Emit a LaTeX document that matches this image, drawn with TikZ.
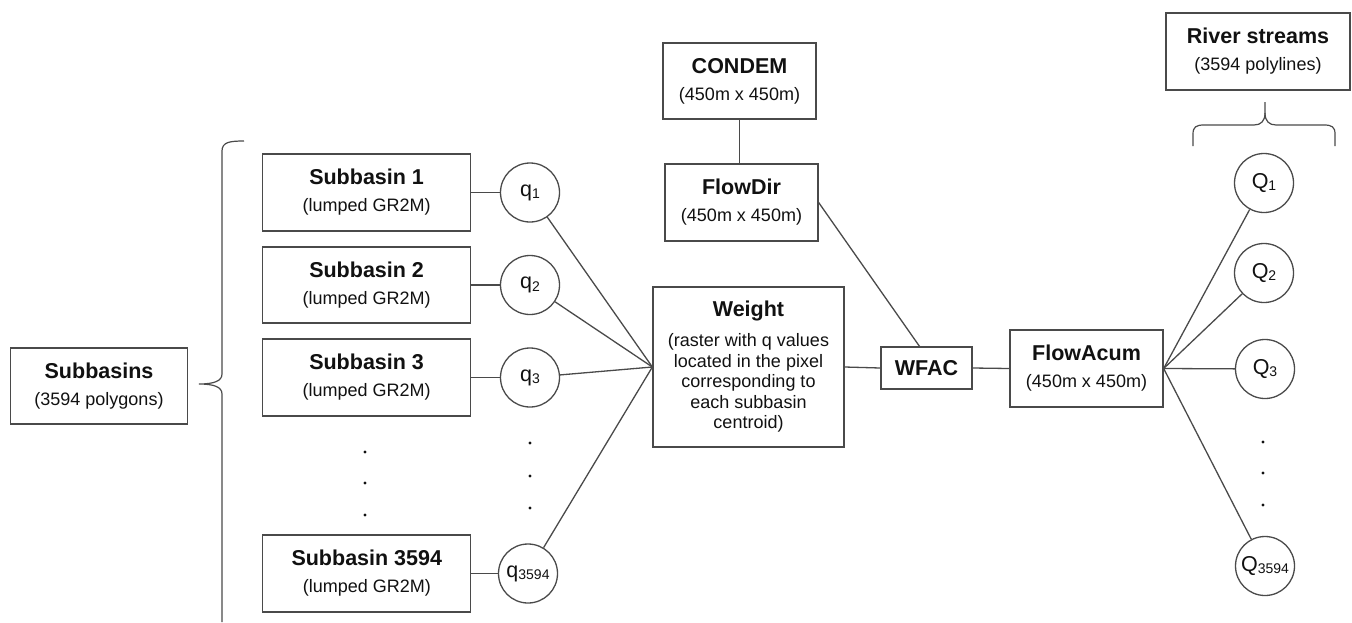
\documentclass[tikz,border=0pt]{standalone}
\usepackage{fontspec}
\setmainfont{Liberation Sans}
\usetikzlibrary{calc}
\definecolor{linec}{HTML}{4A4A4A}
\definecolor{txtc}{HTML}{111111}
\newcommand\ttl[1]{{\fontsize{21.5}{27}\selectfont\bfseries #1}}
\newcommand\sbs[1]{\raisebox{-2.5pt}{\fontsize{14}{14}\selectfont #1}}
\tikzset{
  boxnode/.style={draw=linec, line width=1.3pt, inner sep=0pt, align=center,
    text=txtc, font=\fontsize{18}{27}\selectfont},
  qnode/.style={draw=linec, line width=1.3pt, circle, inner sep=0pt,
    minimum size=59pt, text=txtc, font=\fontsize{21.5}{24}\selectfont},
  conn/.style={draw=linec, line width=1.3pt},
  dotmark/.style={fill=txtc}
}
\begin{document}
\begin{tikzpicture}[x=1pt,y=-1pt]
\useasboundingbox (0,0) rectangle (1352,622);
\fill[white] (0,0) rectangle (1352,622);

% left column
\node[boxnode, minimum width=177pt, minimum height=76pt] (subs) at (99,386)
  {\ttl{Subbasins}\\(3594 polygons)};
\node[boxnode, minimum width=208pt, minimum height=77pt] (sb1) at (366.6,192.5)
  {\ttl{Subbasin 1}\\(lumped GR2M)};
\node[boxnode, minimum width=208pt, minimum height=76pt] (sb2) at (366.6,285)
  {\ttl{Subbasin 2}\\(lumped GR2M)};
\node[boxnode, minimum width=208pt, minimum height=77pt] (sb3) at (366.6,377.5)
  {\ttl{Subbasin 3}\\(lumped GR2M)};
\node[boxnode, minimum width=208pt, minimum height=77pt] (sb4) at (366.8,573.5)
  {\ttl{Subbasin 3594}\\(lumped GR2M)};

\node[qnode] (q1) at (530,192.5) {q\sbs{1}};
\node[qnode] (q2) at (530,285) {q\sbs{2}};
\node[qnode] (q3) at (530,377.5) {q\sbs{3}};
\node[qnode] (q4) at (528,573.5) {q\sbs{3594}};

% middle
\node[boxnode, minimum width=191pt, minimum height=160pt,
  font=\fontsize{18}{20.5}\selectfont] (w) at (748.5,367)
  {\ttl{Weight}\\[9.5pt](raster with q values\\located in the pixel\\corresponding to\\each subbasin\\centroid)};
\node[boxnode, minimum width=153pt, minimum height=76pt] (condem) at (739.5,81)
  {\ttl{CONDEM}\\(450m x 450m)};
\node[boxnode, minimum width=153pt, minimum height=77pt] (fd) at (741.5,202.5)
  {\ttl{FlowDir}\\(450m x 450m)};
\node[boxnode, minimum width=91pt, minimum height=42pt] (wfac) at (926.5,368)
  {\ttl{WFAC}};
\node[boxnode, minimum width=153pt, minimum height=77pt] (fa) at (1086.5,368.5)
  {\ttl{FlowAcum}\\(450m x 450m)};

% right
\node[boxnode, minimum width=184pt, minimum height=77pt] (river) at (1258,51.5)
  {\ttl{River streams}\\(3594 polylines)};
\node[qnode] (Q1) at (1264,183) {Q\sbs{1}};
\node[qnode] (Q2) at (1264,273) {Q\sbs{2}};
\node[qnode] (Q3) at (1265,369) {Q\sbs{3}};
\node[qnode] (Q4) at (1265,566) {Q\sbs{3594}};

% connectors
\foreach \i in {1,2,3,4} {
  \draw[conn] (sb\i.east) -- (q\i);
  \draw[conn] (q\i) -- (w.west);
  \draw[conn] (fa.east) -- (Q\i);
}
\draw[conn] (condem.south) -- (condem.south |- fd.north);
\draw[conn] (fd.east) -- ($(wfac.north)+(-7,0)$);
\draw[conn] (w.east) -- (wfac.west);
\draw[conn] (wfac.east) -- (fa.west);

% dots
\foreach \y in {452,483,515} \fill[dotmark] (365,\y) circle (1.6pt);
\foreach \y in {443,476,508} \fill[dotmark] (530,\y) circle (1.6pt);
\foreach \y in {442,473,505} \fill[dotmark] (1263,\y) circle (1.6pt);

% left brace
\draw[conn, line width=1.2pt] (244,141) .. controls (230,141) and (222,142) .. (222,151)
  -- (222,374) .. controls (222,381) and (214,384) .. (199,384)
  .. controls (214,384) and (222,387) .. (222,394) -- (222,622);

% top brace
\draw[conn, line width=1.2pt] (1193,146) -- (1193,134) .. controls (1193,127) and (1196,125) .. (1204,125)
  -- (1254,125) .. controls (1261,125) and (1265,121) .. (1265,113) -- (1265,102);
\draw[conn, line width=1.2pt] (1335,146) -- (1335,134) .. controls (1335,127) and (1332,125) .. (1324,125)
  -- (1276,125) .. controls (1269,125) and (1265,121) .. (1265,113);
\end{tikzpicture}
\end{document}
